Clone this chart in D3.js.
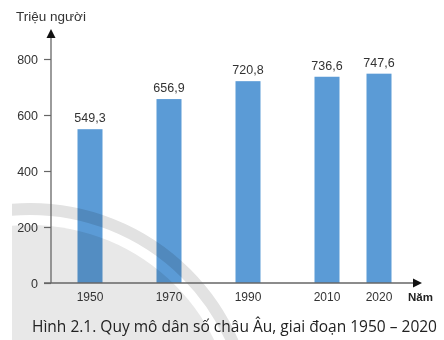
<!DOCTYPE html>
<html>
<head>
<meta charset="utf-8">
<script src="https://cdn.jsdelivr.net/npm/d3@7"></script>
<style>
  html, body { margin: 0; padding: 0; background: #fff; }
  svg { display: block; }
</style>
</head>
<body>
<svg id="chart" width="444" height="340"></svg>
<script>
// Dữ liệu
const years = [1950, 1970, 1990, 2010, 2020];
const population = [549.3, 656.9, 720.8, 736.6, 747.6];
const yTicks = [0, 200, 400, 600, 800];
const yTitle = "Triệu người";
const xTitle = "Năm";
const caption = "Hình 2.1. Quy mô dân số châu Âu, giai đoạn 1950 – 2020";

const width = 444, height = 340;
const axisX = 51, axisY = 283;
const barW = 25;
const barColor = "#5b9bd6";
const textColor = "#333";

const svg = d3.select("#chart");

// Escalas (x no uniforme: 2010 -> 2020 más corto)
const x = d3.scaleLinear()
  .domain([1950, 2010, 2020])
  .range([90, 327, 379]);
const y = d3.scaleLinear()
  .domain([0, 800])
  .range([axisY, 59]);

// Barras
svg.append("g")
  .selectAll("rect")
  .data(years)
  .join("rect")
  .attr("x", (d) => x(d) - barW / 2)
  .attr("y", (d, i) => y(population[i]))
  .attr("width", barW)
  .attr("height", (d, i) => y(0) - y(population[i]))
  .attr("fill", barColor);

// Marca de agua (círculo gris)
const wm = svg.append("g")
  .style("mix-blend-mode", "multiply");
const clip = svg.append("clipPath").attr("id", "wmclip");
clip.append("rect").attr("x", 12).attr("y", 0).attr("width", 430).attr("height", height);
wm.attr("clip-path", "url(#wmclip)");
wm.append("circle")
  .attr("cx", 30).attr("cy", 430).attr("r", 221)
  .attr("fill", "none")
  .attr("stroke", "#e2e2e2")
  .attr("stroke-width", 12);
wm.append("circle")
  .attr("cx", 30).attr("cy", 430).attr("r", 205)
  .attr("fill", "#e8e8e8");

// Eje Y
const yAxis = d3.axisLeft(y)
  .tickValues(yTicks)
  .tickSize(7)
  .tickPadding(6);
const gy = svg.append("g")
  .attr("transform", `translate(${axisX},0)`)
  .call(yAxis);
gy.select(".domain").remove();
gy.selectAll(".tick line").attr("stroke", "#666").attr("stroke-width", 1.2);
gy.selectAll(".tick text")
  .attr("fill", textColor)
  .attr("font-family", "Liberation Sans, Arial, sans-serif")
  .attr("font-size", "12.5px");

// Líneas de ejes con flechas
svg.append("line")
  .attr("x1", axisX).attr("x2", axisX)
  .attr("y1", y(0)).attr("y2", 36)
  .attr("stroke", "#666").attr("stroke-width", 1.3);
svg.append("path")
  .attr("d", `M${axisX},29 L${axisX - 4.5},38 L${axisX + 4.5},38 Z`)
  .attr("fill", "#111");
svg.append("line")
  .attr("x1", 44).attr("x2", 414)
  .attr("y1", y(0)).attr("y2", y(0))
  .attr("stroke", "#666").attr("stroke-width", 1.3);
svg.append("path")
  .attr("d", `M422,${y(0)} L413,${y(0) - 4.5} L413,${y(0) + 4.5} Z`)
  .attr("fill", "#111");

// Etiquetas del eje X
svg.append("g")
  .selectAll("text")
  .data(years)
  .join("text")
  .attr("x", (d) => x(d))
  .attr("y", 301)
  .attr("text-anchor", "middle")
  .attr("fill", textColor)
  .attr("font-family", "Liberation Sans, Arial, sans-serif")
  .attr("font-size", "12px")
  .text((d) => d);

// Valores sobre las barras
svg.append("g")
  .selectAll("text")
  .data(years)
  .join("text")
  .attr("x", (d) => x(d))
  .attr("y", (d, i) => y(population[i]) - 7)
  .attr("text-anchor", "middle")
  .attr("fill", textColor)
  .attr("font-family", "Liberation Sans, Arial, sans-serif")
  .attr("font-size", "12.5px")
  .text((d, i) => String(population[i]).replace(".", ","));

// Títulos de ejes
svg.append("text")
  .attr("x", 16).attr("y", 21)
  .attr("fill", textColor)
  .attr("font-family", "Liberation Sans, Arial, sans-serif")
  .attr("font-size", "13.5px")
  .text(yTitle);
svg.append("text")
  .attr("x", 408).attr("y", 301)
  .attr("fill", "#222")
  .attr("font-family", "Liberation Sans, Arial, sans-serif")
  .attr("font-weight", "bold")
  .attr("font-size", "11.5px")
  .text(xTitle);

// Leyenda de figura
svg.append("text")
  .attr("x", 32).attr("y", 332)
  .attr("fill", "#222")
  .attr("font-family", "Open Sans, Noto Sans, sans-serif")
  .attr("font-size", "15.5px")
  .attr("textLength", 405)
  .attr("lengthAdjust", "spacingAndGlyphs")
  .text(caption);
</script>
</body>
</html>
